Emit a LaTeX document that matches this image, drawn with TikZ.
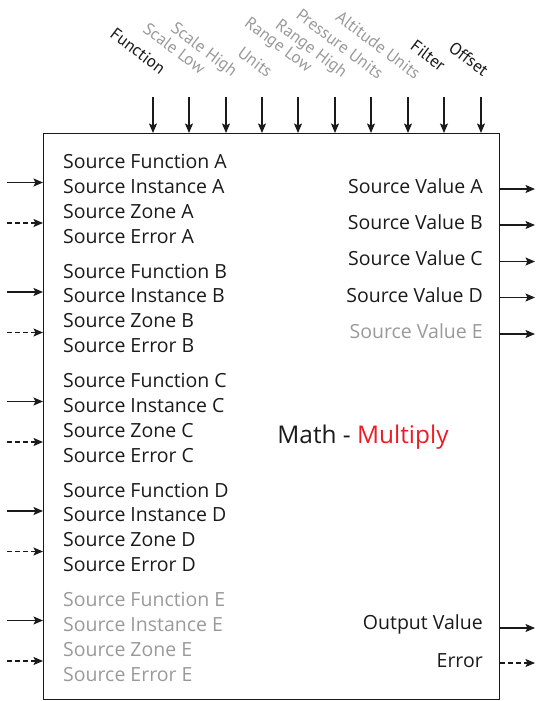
\documentclass[tikz,border=0pt]{standalone}
\usepackage{fontspec}
\setmainfont{Open Sans}
\newfontfamily\toplabelfont{PT Sans}
\usetikzlibrary{arrows.meta}
\definecolor{ink}{HTML}{1A1A1A}
\definecolor{dim}{HTML}{9A9A9A}
\definecolor{accent}{HTML}{ED1C24}
\begin{document}
\begin{tikzpicture}[x=1pt,y=-1pt,
  conn/.style={draw=ink, line width=1.1pt, -{Stealth[length=9.5pt,width=8pt,inset=2pt]}},
  dconn/.style={conn, dash pattern=on 5pt off 3pt},
  lbl/.style={font=\fontsize{19.5}{23}\selectfont, text=ink, inner sep=0pt, anchor=west},
  rlbl/.style={lbl, anchor=east},
  tlbl/.style={font=\toplabelfont\fontsize{17}{20}\selectfont, text=ink, inner sep=0pt, anchor=base east, rotate=-37},
  off/.style={text=dim}
]
\useasboundingbox (0,0) rectangle (536,701);
\node[draw=ink, line width=1.3pt, minimum width=456pt, minimum height=566pt, inner sep=0pt, anchor=north west] (box) at (43,133) {};

% top inputs
\foreach \i/\x/\lx/\ly/\t/\s in {1/153/160/75/Function/,2/189/200/75/Scale Low/off,3/226/232/77/Scale High/off,4/262/267/78/Units/off,5/298/307/73/Range Low/off,6/335/342/78/Range High/off,7/371/378/80/Pressure Units/off,8/408/415/80/Altitude Units/off,9/444/440/72/Filter/,10/481/483/77/Offset/}{
  \coordinate (t\i) at (\x,97);
  \draw[conn] (t\i) -- (t\i |- box.north);
  \node[tlbl,\s] (tl\i) at (\lx,\ly) {\t};
}

% left groups
\foreach \g/\y/\s in {A/0/,B/109.5/,C/219/,D/328.5/,E/438/off}{
  \node[lbl,\s] (f\g) at (63,161.5+\y) {Source Function \g};
  \node[lbl,\s] (i\g) at (63,186.5+\y) {Source Instance \g};
  \node[lbl,\s] (z\g) at (63,211.5+\y) {Source Zone \g};
  \node[lbl,\s] (e\g) at (63,236.5+\y) {Source Error \g};
  \coordinate (ls\g) at (7,182.5+\y);
  \coordinate (ld\g) at (7,223+\y);
  \draw[conn] (ls\g) -- (ls\g -| box.west);
  \draw[dconn] (ld\g) -- (ld\g -| box.west);
}

% right outputs
\foreach \g/\y/\ay/\s in {A/186/189/,B/222/225/,C/258/261.5/,D/295/297.5/,E/331.5/334/off}{
  \node[rlbl,\s] (v\g) at (483,\y) {Source Value \g};
  \coordinate (rv\g) at (535,\ay);
  \draw[conn] (rv\g -| box.east) -- (rv\g);
}
\node[rlbl] (out) at (483,624) {Output Value};
\coordinate (rout) at (535,628);
\draw[conn] (rout -| box.east) -- (rout);
\node[rlbl] (err) at (483,661) {Error};
\coordinate (rerr) at (535,663);
\draw[dconn] (rerr -| box.east) -- (rerr);

\node[font=\fontsize{24.4}{28}\selectfont, text=ink, inner sep=0pt] (title) at (363,437) {Math - \textcolor{accent}{Multiply}};
\end{tikzpicture}
\end{document}
